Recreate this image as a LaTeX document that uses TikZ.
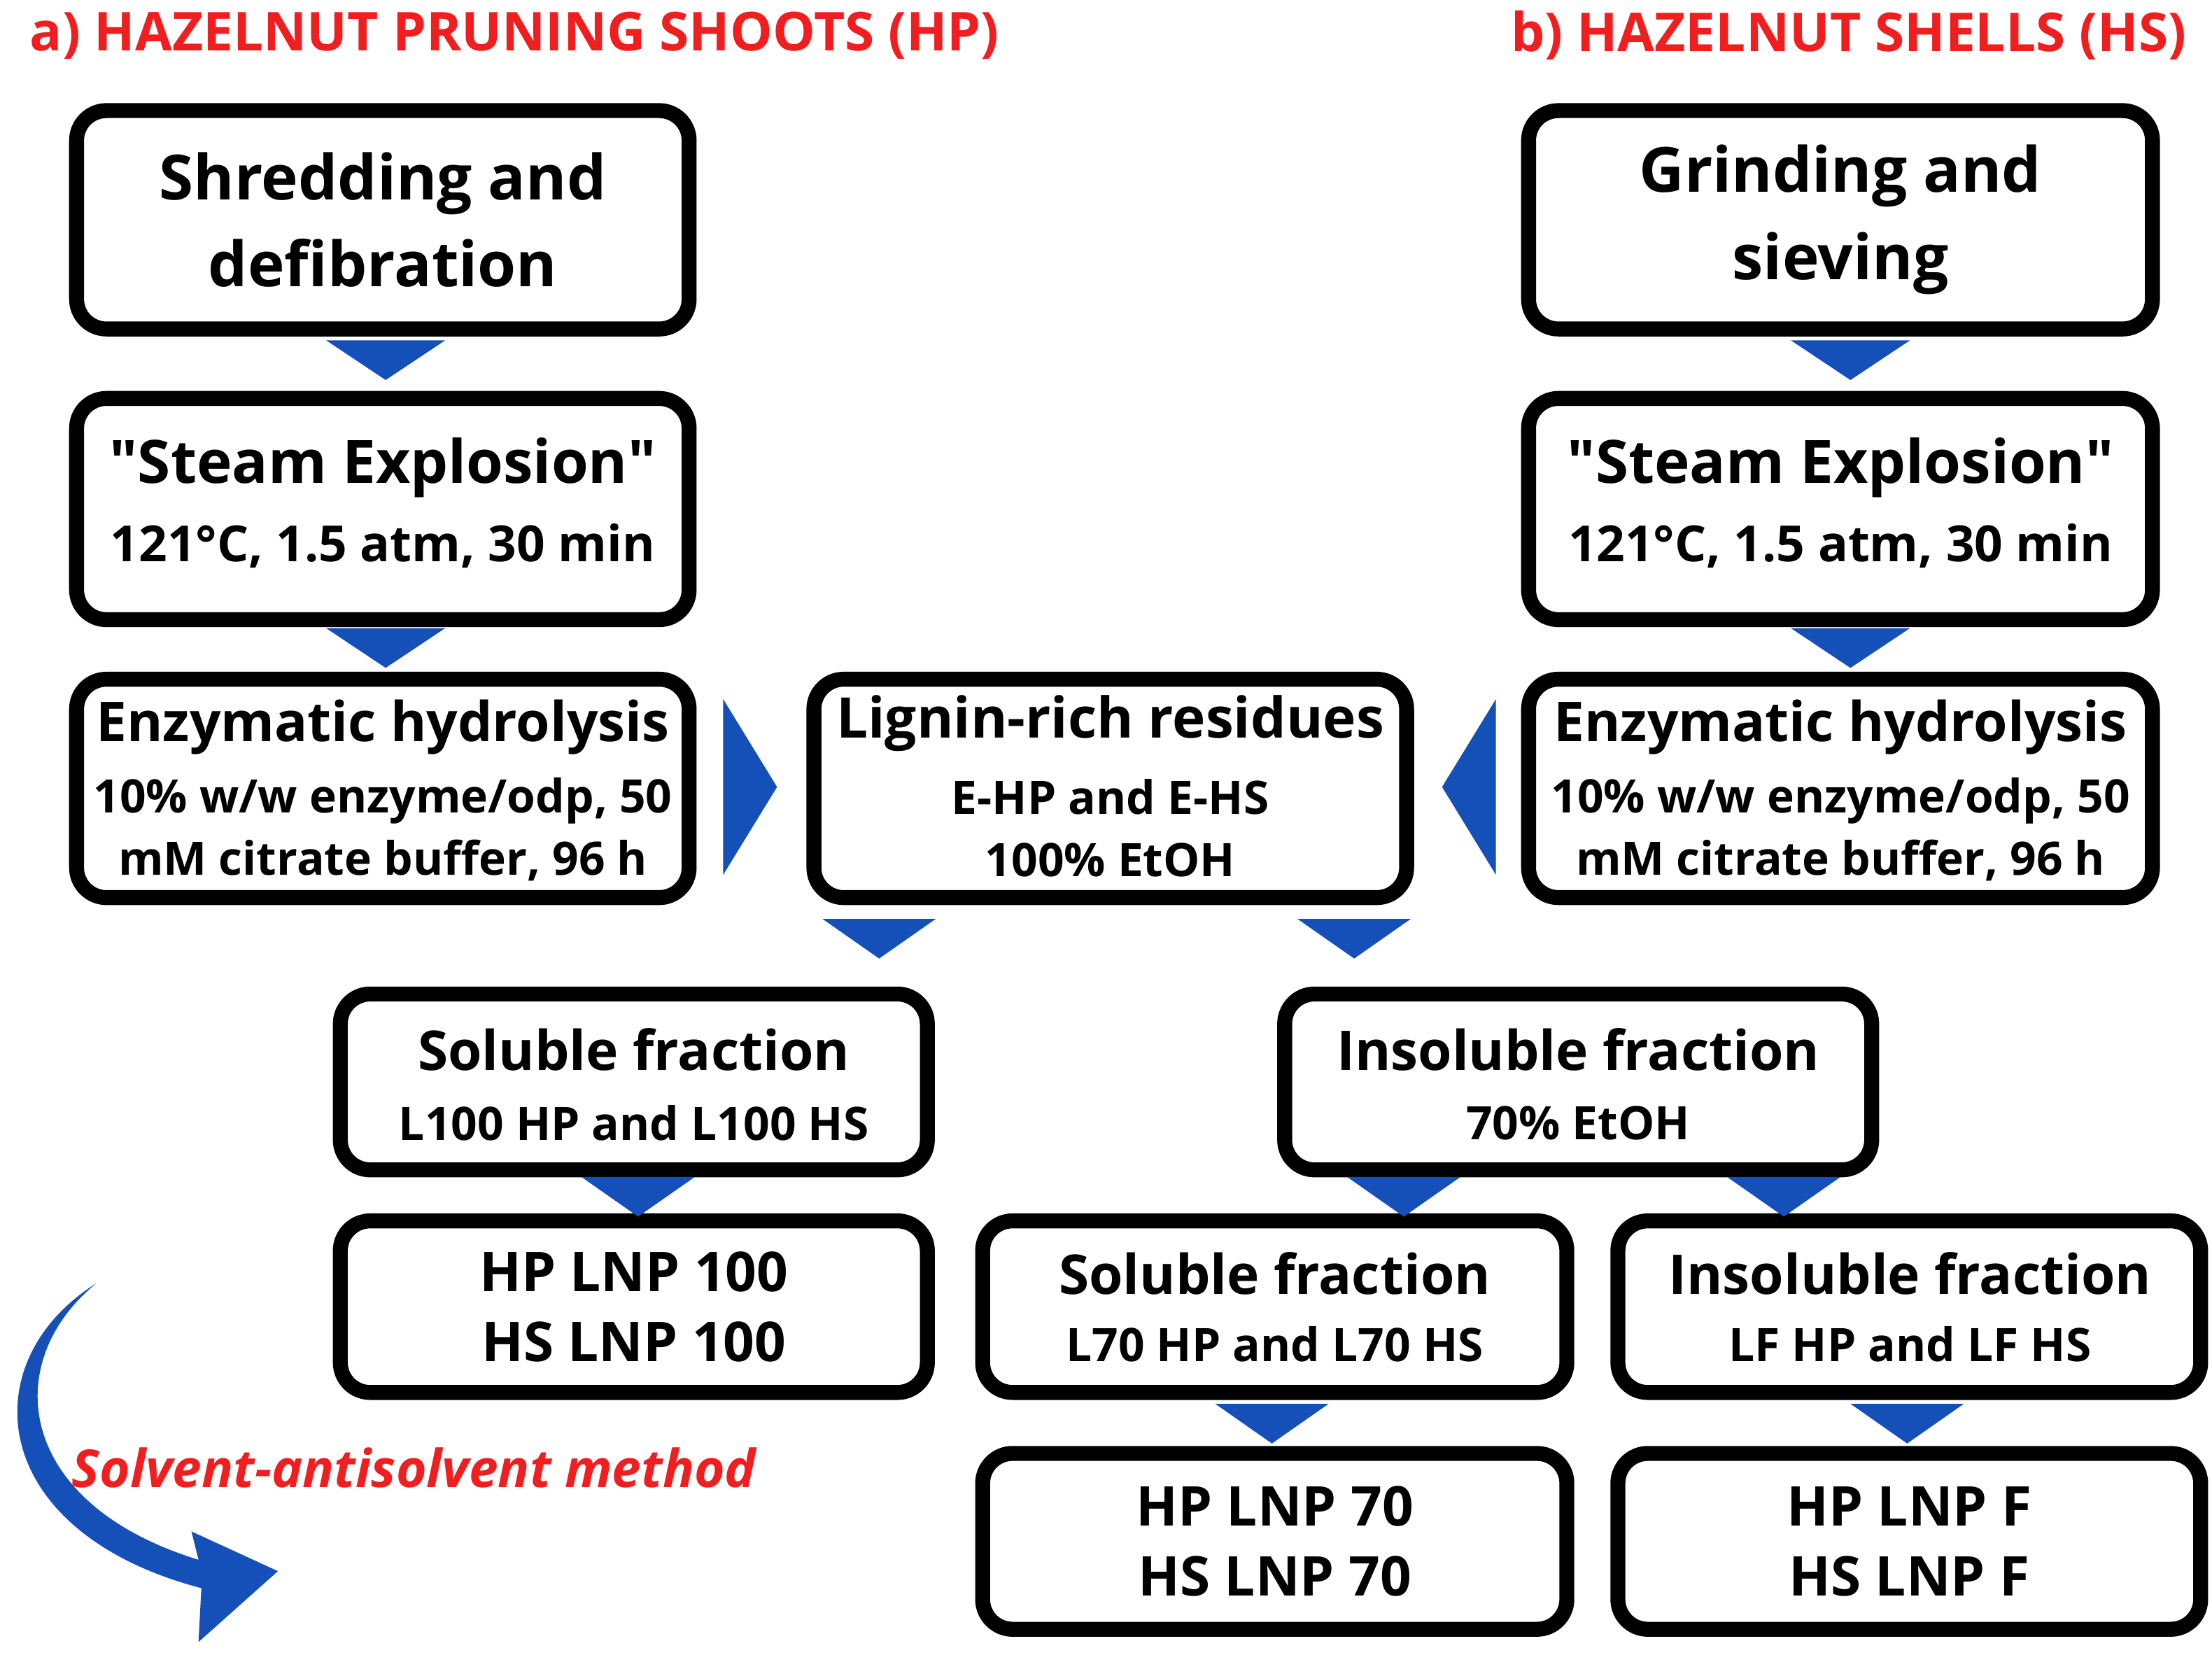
\documentclass[tikz,border=0pt]{standalone}
\usepackage{fontspec}
\setmainfont{Open Sans}
\usetikzlibrary{arrows.meta}
\definecolor{tb}{HTML}{1450B8}
\definecolor{tr}{HTML}{F01E1E}
\begin{document}
\begin{tikzpicture}[x=0.02cm,y=-0.02cm,
 box/.style={draw=black,line width=6pt,rounded corners=12pt,fill=white},
 tri/.style={fill=tb,draw=none},
 big/.style={font=\bfseries\fontsize{25}{35}\selectfont,align=center},
 mid/.style={font=\bfseries\fontsize{20}{26}\selectfont,align=center},
 sm/.style={font=\bfseries\fontsize{18.5}{25}\selectfont,align=center},
 hd/.style={font=\bfseries\fontsize{21.5}{25}\selectfont,text=tr}]
\useasboundingbox (0,0) rectangle (1560,1167);
\newcommand{\bx}[5]{\draw[box] (#1,#2) rectangle (#3,#4); \coordinate (#5) at ({(#1+#3)/2},{(#2+#4)/2});}
\newcommand{\dt}[3]{\fill[tri] (#1-#3,#2) -- (#1+#3,#2) -- (#1,#2+28) -- cycle;}
\node[hd,anchor=west] (ha) at (15,25) {a) HAZELNUT PRUNING SHOOTS (HP)};
\node[hd,anchor=east] (hb) at (1548,25) {b) HAZELNUT SHELLS (HS)};
\bx{54}{78}{486}{232}{c1}
\node[big] (n1) at (c1) {Shredding and\\defibration};
\bx{54}{281}{486}{437}{c2}
\node[big,font=\bfseries\fontsize{24}{30}\selectfont] (n2a) at (270,330) {\textquotedbl Steam Explosion\textquotedbl};
\node[mid] (n2b) at (270,385) {121°C, 1.5 atm, 30 min};
\bx{54}{479}{486}{633}{c3}
\node[big,font=\bfseries\fontsize{22}{26}\selectfont] (n3a) at (270,513) {Enzymatic hydrolysis};
\node[sm] (n3b) at (270,585) {10\% w/w enzyme/odp, 50\\mM citrate buffer, 96 h};
\bx{1078}{78}{1518}{232}{c4}
\node[big] (n4) at (c4) {Grinding and\\sieving};
\bx{1078}{281}{1518}{437}{c5}
\node[big,font=\bfseries\fontsize{24}{30}\selectfont] (n5a) at (1298,330) {\textquotedbl Steam Explosion\textquotedbl};
\node[mid] (n5b) at (1298,385) {121°C, 1.5 atm, 30 min};
\bx{1078}{479}{1518}{633}{c6}
\node[big,font=\bfseries\fontsize{22}{26}\selectfont] (n6a) at (1298,513) {Enzymatic hydrolysis};
\node[sm] (n6b) at (1298,585) {10\% w/w enzyme/odp, 50\\mM citrate buffer, 96 h};
\bx{574}{479}{992}{633}{c7}
\node[big,font=\bfseries\fontsize{22.5}{26}\selectfont] (n7a) at (783,510) {Lignin-rich residues};
\node[sm] (n7b) at (783,584) {E-HP and E-HS\\100\% EtOH};
\bx{240}{701}{654}{825}{c8}
\node[big,font=\bfseries\fontsize{22}{26}\selectfont] (n8a) at (447,740) {Soluble fraction};
\node[sm] (n8b) at (447,792) {L100 HP and L100 HS};
\bx{906}{701}{1320}{825}{c9}
\node[big,font=\bfseries\fontsize{22}{26}\selectfont] (n9a) at (1113,740) {Insoluble fraction};
\node[sm] (n9b) at (1113,792) {70\% EtOH};
\bx{240}{861}{654}{982}{c10}
\node[big,font=\bfseries\fontsize{22}{28}\selectfont] (n10) at (c10) {HP LNP 100\\HS LNP 100};
\bx{693}{861}{1105}{982}{c11}
\node[big,font=\bfseries\fontsize{22}{26}\selectfont] (n11a) at (899,898) {Soluble fraction};
\node[sm] (n11b) at (899,948) {L70 HP and L70 HS};
\bx{1141}{861}{1552}{982}{c12}
\node[big,font=\bfseries\fontsize{22}{26}\selectfont] (n12a) at (1347,898) {Insoluble fraction};
\node[sm] (n12b) at (1347,948) {LF HP and LF HS};
\bx{693}{1025}{1105}{1149}{c13}
\node[big,font=\bfseries\fontsize{22}{28}\selectfont] (n13) at (c13) {HP LNP 70\\HS LNP 70};
\bx{1141}{1025}{1552}{1149}{c14}
\node[big,font=\bfseries\fontsize{22}{28}\selectfont] (n14) at (c14) {HP LNP F\\HS LNP F};
\dt{272}{240}{42} \dt{272}{443}{42} \dt{1305}{240}{42} \dt{1305}{443}{42}
\dt{620}{648}{40} \dt{955}{648}{40} \dt{450}{830}{40} \dt{990}{830}{40} \dt{1258}{830}{40}
\dt{897}{990}{40} \dt{1345}{990}{40}
\fill[tri] (510,493) -- (548,555) -- (510,617) -- cycle;
\fill[tri] (1055,493) -- (1017,555) -- (1055,617) -- cycle;
\fill[tb] (68,905) .. controls (0,960) and (10,1060) .. (140,1100) -- (135,1080) -- (196,1108) -- (140,1158) -- (142,1120) .. controls (-10,1080) and (-20,960) .. (68,905) -- cycle;
\node[font=\bfseries\itshape\fontsize{21}{24}\selectfont,text=tr] (sa) at (292,1035) {Solvent-antisolvent method};
\end{tikzpicture}
\end{document}
